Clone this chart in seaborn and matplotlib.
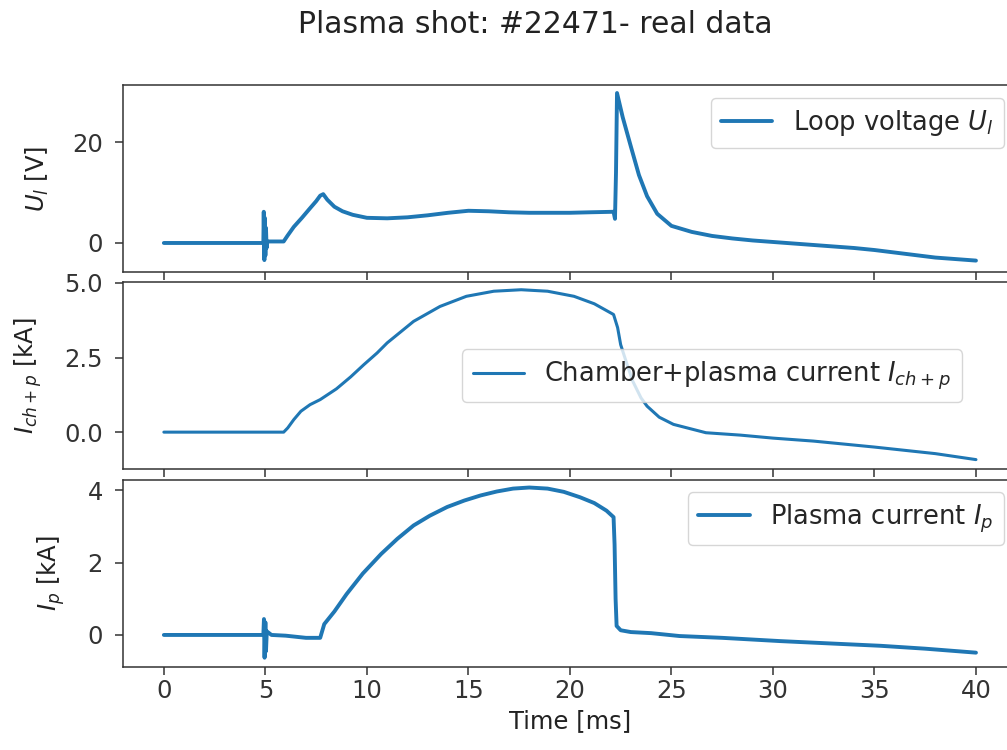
import matplotlib
matplotlib.use("Agg")
import matplotlib.pyplot as plt
import seaborn as sns

# loop voltage U_l [V]
time_u = [0.0, 4.9, 4.92, 4.95, 4.97, 5.0, 5.03, 5.06, 5.1, 5.9, 6.1, 6.4, 6.8, 7.2,
          7.5, 7.7, 7.85, 8.05, 8.4, 8.8, 9.3, 10.0, 11.0, 12.0, 13.0, 14.0, 15.0, 16.0,
          17.0, 18.0, 19.0, 20.0, 21.0, 22.15, 22.22, 22.27, 22.32, 22.6, 23.0, 23.4,
          23.8, 24.3, 25.0, 26.0, 27.0, 28.0, 29.0, 30.0, 32.0, 34.0, 35.0, 36.0,
          37.0, 38.0, 39.0, 40.0]
u_loop = [0.0, 0.0, 6.2, -3.4, 5.0, -2.5, 3.0, -1.0, 0.3, 0.3, 1.5, 3.2, 5.0, 6.9,
          8.3, 9.4, 9.7, 8.6, 7.2, 6.3, 5.6, 5.0, 4.9, 5.1, 5.5, 6.0, 6.4, 6.3,
          6.1, 6.0, 6.0, 6.0, 6.1, 6.2, 4.8, 14.0, 29.8, 25.0, 19.2, 13.5,
          9.3, 5.8, 3.4, 2.2, 1.4, 0.9, 0.5, 0.2, -0.4, -1.0, -1.4, -1.9,
          -2.4, -2.9, -3.2, -3.5]

# chamber + plasma current I_ch+p [kA]
time_ch = [0.0, 5.9, 6.1, 6.4, 6.75, 7.2, 7.7, 8.5, 9.2, 9.85, 10.5, 11.0, 12.3,
           13.6, 14.9, 16.25, 17.6, 18.9, 20.2, 21.2, 22.15, 22.35, 22.5, 22.8,
           23.1, 23.5, 23.8, 24.4, 25.1, 26.7, 28.4, 30.0, 32.0, 35.0, 38.0, 40.0]
i_chp = [0.0, 0.0, 0.14, 0.42, 0.7, 0.92, 1.09, 1.45, 1.85, 2.26, 2.65, 2.99, 3.71,
         4.21, 4.55, 4.72, 4.77, 4.72, 4.55, 4.3, 3.94, 3.5, 2.93, 2.3,
         1.7, 1.15, 0.87, 0.5, 0.26, -0.02, -0.1, -0.2, -0.3, -0.5, -0.72, -0.92]

# plasma current I_p [kA]
time_p = [0.0, 4.9, 4.93, 4.96, 5.0, 5.03, 5.07, 5.3, 6.0, 7.0, 7.7, 7.9, 8.4, 9.0,
          9.8, 10.7, 11.5, 12.3, 13.1, 13.95, 14.8, 15.6, 16.4, 17.2, 18.0, 18.9,
          19.7, 20.5, 21.2, 21.8, 22.15, 22.2, 22.25, 22.3, 22.5, 23.0, 24.0, 25.4,
          27.5, 30.35, 33.0, 35.3, 37.5, 40.0]
i_p = [0.0, 0.0, 0.44, -0.63, 0.35, -0.45, 0.1, 0.0, -0.02, -0.08, -0.08, 0.3, 0.65,
       1.13, 1.7, 2.24, 2.66, 3.03, 3.3, 3.54, 3.72, 3.86, 3.97, 4.05, 4.08, 4.05,
       3.96, 3.81, 3.65, 3.44, 3.26, 2.5, 1.0, 0.25, 0.13, 0.08, 0.05, -0.03,
       -0.08, -0.17, -0.24, -0.3, -0.38, -0.49]

sns.set_style("ticks")
plt.rcParams['font.family'] = ['DejaVu Sans']
plt.rcParams['axes.edgecolor'] = '#333333'
plt.rcParams['axes.linewidth'] = 1.1
plt.rcParams['xtick.color'] = '#333333'
plt.rcParams['ytick.color'] = '#333333'
plt.rcParams['xtick.major.size'] = 5.5
plt.rcParams['ytick.major.size'] = 5.5
plt.rcParams['xtick.major.width'] = 1.1
plt.rcParams['ytick.major.width'] = 1.1
plt.rcParams['ytick.major.pad'] = 9

fs = 17.5
blue = '#1f77b4'

fig, axes = plt.subplots(3, 1, figsize=(10.07, 7.5), dpi=100, sharex=True)
plt.subplots_adjust(left=0.1224, right=1.0095, bottom=0.111, top=0.8867, hspace=0.054)

panels = [
    (time_u, u_loop, 'Loop voltage $U_l$', '$U_l$ [V]', (-5.8, 31.4), [0, 20],
     dict(loc='upper right'), 2.8),
    (time_ch, i_chp, 'Chamber+plasma current $I_{ch+p}$', '$I_{ch+p}$ [kA]', (-1.25, 5.02), [0.0, 2.5, 5.0],
     dict(loc='center right', bbox_to_anchor=(0.953, 0.5)), 2.2),
    (time_p, i_p, 'Plasma current $I_p$', '$I_p$ [kA]', (-0.88, 4.3), [0, 2, 4],
     dict(loc='upper right'), 2.8),
]

for ax, (t, y, lab, ylab, ylim, yt, legkw, lw) in zip(axes, panels):
    sns.lineplot(x=t, y=y, ax=ax, color=blue, lw=lw, label=lab,
                 estimator=None, sort=False)
    ax.set_ylim(*ylim)
    ax.set_yticks(yt)
    if ylab.startswith('$I_{ch'):
        ax.set_yticklabels(['0.0', '2.5', '5.0'])
    ax.set_ylabel(ylab, fontsize=fs, color='#222222', labelpad=15)
    ax.tick_params(labelsize=fs)
    ax.legend(fontsize=18.5, frameon=True, framealpha=0.8,
              edgecolor='#cccccc', fancybox=True, handlelength=2.0, **legkw)

axes[-1].set_xlim(-2, 42)
axes[-1].set_xticks([0, 5, 10, 15, 20, 25, 30, 35, 40])
axes[-1].set_xlabel('Time [ms]', fontsize=fs, color='#222222')

fig.suptitle('Plasma shot: #22471- real data', fontsize=21.5, x=0.532, y=0.967,
             va='center', color='#222222')

fig.savefig('out.png', dpi=100)
